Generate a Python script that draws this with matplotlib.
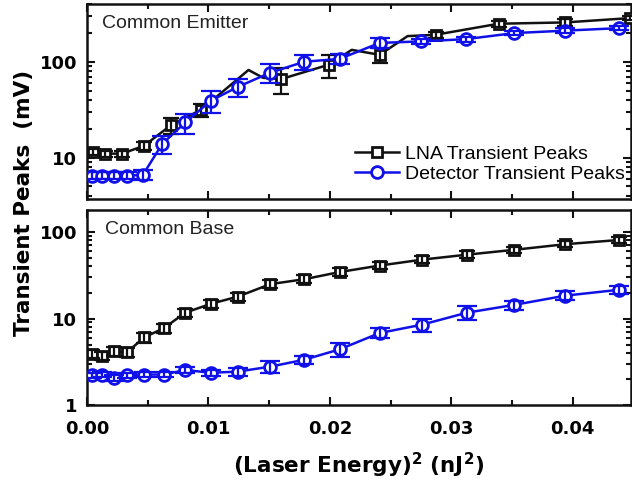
import matplotlib
matplotlib.use("Agg")
import matplotlib.pyplot as plt
from matplotlib.ticker import LogLocator, NullFormatter, FixedLocator, FormatStrFormatter, MultipleLocator
import numpy as np

# ---------------- data ----------------
# Common Emitter panel
ce_lna_x = [0.0005, 0.0015, 0.0029, 0.0047, 0.0069, 0.0094, 0.0133, 0.0145, 0.0160,
            0.0199, 0.0218, 0.0241, 0.0264, 0.0287, 0.0339, 0.0394, 0.0447]
ce_lna_y = [11.4, 11.0, 11.0, 13.3, 21.7, 31.6, 82, 68, 66,
            93, 133, 118, 185, 191, 249, 257, 285]
ce_lna_err = [0.8, 0.8, 0.8, 1.2, 4, 5, 0, 0, 20,
              25, 0, 22, 0, 15, 18, 20, 15]
ce_lna_marked = [0, 1, 2, 3, 4, 5, 8, 9, 11, 13, 14, 15, 16]

ce_det_x = [0.0004, 0.0012, 0.0022, 0.0033, 0.0046, 0.0062, 0.0081, 0.0102, 0.0124,
            0.0151, 0.0179, 0.0208, 0.0241, 0.0275, 0.0312, 0.0352, 0.0394, 0.0438]
ce_det_y = [6.5, 6.5, 6.5, 6.5, 6.6, 13.9, 23.3, 39.2, 54.5,
            77, 100, 107, 157, 163, 172, 199, 211, 224]
ce_det_err = [0.5, 0.5, 0.5, 0.5, 0.8, 3, 5.5, 10, 12,
              17, 18, 12, 18, 10, 10, 10, 12, 12]

# Common Base panel
cb_x = [0.0004, 0.0012, 0.0022, 0.0033, 0.0047, 0.0063, 0.0081, 0.0102, 0.0124,
        0.0151, 0.0179, 0.0208, 0.0241, 0.0276, 0.0313, 0.0352, 0.0394, 0.0438]
cb_lna_y = [3.94, 3.73, 4.2, 4.07, 6.05, 7.7, 11.7, 14.8, 17.9,
            25, 28.5, 34.5, 41, 48, 54.8, 62.4, 72.4, 81]
cb_lna_err = [0.4, 0.4, 0.5, 0.5, 0.8, 0.9, 1.3, 1.6, 2.0,
              2.6, 3.0, 3.5, 4, 4.5, 5, 5.5, 6, 6.5]
cb_det_y = [2.2, 2.25, 2.05, 2.2, 2.25, 2.25, 2.54, 2.36, 2.43,
            2.78, 3.34, 4.4, 6.8, 8.5, 11.7, 14.4, 18.4, 21.5]
cb_det_err = [0.15, 0.15, 0.15, 0.15, 0.15, 0.15, 0.2, 0.2, 0.25,
              0.45, 0.35, 0.8, 0.9, 1.5, 2.2, 1.7, 2.2, 2.5]

x_ticks = [0.00, 0.01, 0.02, 0.03, 0.04]
lna_label = "LNA Transient Peaks"
det_label = "Detector Transient Peaks"

# ---------------- style ----------------
BLACK = "#111111"
BLUE = "#1010e8"
W, H = 632, 483
fig = plt.figure(figsize=(W / 100, H / 100), dpi=100)

left = 87 / W
right = 631 / W
ax1 = fig.add_axes([left, 1 - 199 / H, right - left, 195 / H])
ax2 = fig.add_axes([left, 1 - 405 / H, right - left, 195 / H])

txt_font = "Liberation Sans"


def style_axis(ax, ylim, yticks, show_xlabels):
    ax.set_yscale("log")
    ax.set_xlim(0, 0.0448)
    ax.set_ylim(*ylim)
    for s in ax.spines.values():
        s.set_linewidth(1.8)
        s.set_color(BLACK)
    ax.xaxis.set_major_locator(FixedLocator(x_ticks))
    ax.xaxis.set_minor_locator(MultipleLocator(0.005))
    ax.yaxis.set_major_locator(FixedLocator(yticks))
    ax.yaxis.set_minor_locator(LogLocator(base=10, subs=np.arange(2, 10), numticks=20))
    ax.yaxis.set_minor_formatter(NullFormatter())
    ax.set_yticklabels([str(t) for t in yticks])
    ax.tick_params(which="both", direction="in", top=True, right=True, width=1.5, color=BLACK)
    ax.tick_params(which="major", length=6)
    ax.tick_params(which="minor", length=3.5)
    ax.tick_params(axis="y", which="major", pad=7)
    ax.tick_params(axis="x", which="major", pad=11)
    for lab in ax.get_yticklabels():
        lab.set_fontweight("bold")
        lab.set_fontsize(13)
    if show_xlabels:
        ax.xaxis.set_major_formatter(FormatStrFormatter("%.2f"))
        for lab in ax.get_xticklabels():
            lab.set_fontweight("bold")
            lab.set_fontsize(13)
    else:
        ax.tick_params(axis="x", labelbottom=False)


mk = dict(markerfacecolor="white", markeredgewidth=2)

# top panel
ax1.plot(ce_lna_x, ce_lna_y, "-s", color=BLACK, lw=1.8, ms=7, markevery=ce_lna_marked,
         markeredgecolor=BLACK, label=lna_label, zorder=3, **mk)
ax1.errorbar(ce_lna_x, ce_lna_y, yerr=ce_lna_err, fmt="none", ecolor=BLACK, elinewidth=1.6,
             capsize=6, capthick=1.6, errorevery=ce_lna_marked, zorder=3)
ax1.plot(ce_det_x, ce_det_y, "-o", color=BLUE, lw=1.8, ms=8.5, markeredgecolor=BLUE,
         label=det_label, zorder=4, **mk)
ax1.errorbar(ce_det_x, ce_det_y, yerr=ce_det_err, fmt="none", ecolor=BLUE, elinewidth=1.6,
             capsize=7, capthick=1.6, zorder=4)
style_axis(ax1, (3.7, 400), [10, 100], False)
ax1.text(15 / 545, 1 - 20 / 195, "Common Emitter", transform=ax1.transAxes, fontsize=14,
         family=txt_font, va="center", ha="left", color="#222222")
leg = ax1.legend(loc="center left", bbox_to_anchor=((355 - 87) / 545, (199 - 164) / 195),
                 frameon=False, borderpad=0, handlelength=2.3, handletextpad=0.3,
                 labelspacing=0.15, prop={"family": txt_font, "size": 14}, borderaxespad=0)

# bottom panel
ax2.plot(cb_x, cb_lna_y, "-s", color=BLACK, lw=1.8, ms=7, markeredgecolor=BLACK, zorder=3, **mk)
ax2.errorbar(cb_x, cb_lna_y, yerr=cb_lna_err, fmt="none", ecolor=BLACK, elinewidth=1.6,
             capsize=6, capthick=1.6, zorder=3)
ax2.plot(cb_x, cb_det_y, "-o", color=BLUE, lw=1.8, ms=8.5, markeredgecolor=BLUE, zorder=4, **mk)
ax2.errorbar(cb_x, cb_det_y, yerr=cb_det_err, fmt="none", ecolor=BLUE, elinewidth=1.6,
             capsize=7, capthick=1.6, zorder=4)
style_axis(ax2, (1, 180), [1, 10, 100], True)
ax2.text(18 / 545, 1 - 20 / 195, "Common Base", transform=ax2.transAxes, fontsize=14,
         family=txt_font, va="center", ha="left", color="#222222")

ax2.set_xlabel(r"(Laser Energy)$^\mathbf{2}$ (nJ$^\mathbf{2}$)", fontsize=15.5, fontweight="bold",
               labelpad=9)
fig.text(24 / W, 1 - 203 / H, "Transient Peaks  (mV)", rotation=90, fontsize=15.5,
         fontweight="bold", ha="center", va="center")

fig.savefig("out.png", dpi=100)
